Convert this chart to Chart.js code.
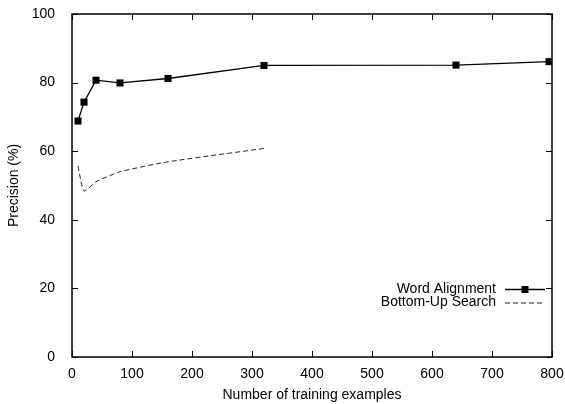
<!DOCTYPE html>
<html>
<head>
<meta charset="utf-8">
<script src="https://cdn.jsdelivr.net/npm/chart.js@4/dist/chart.umd.min.js"></script>
<style>
  html, body { margin: 0; padding: 0; background: #fff; }
  #wrap { width: 565px; height: 404px; }
</style>
</head>
<body>
<div id="wrap"><canvas id="chart" width="565" height="404"></canvas></div>
<script>
// data
const trainingSizes = [10, 20, 40, 80, 160, 320, 640, 795];
const wordAlignment = [68.8, 74.3, 80.7, 79.9, 81.2, 85.0, 85.1, 86.1];
const bottomUpSizes = [10, 20, 40, 80, 160, 320];
const bottomUpSearch = [55.7, 48.4, 51.1, 54.0, 56.9, 60.8];
const xTicks = [0, 100, 200, 300, 400, 500, 600, 700, 800];
const yTicks = [0, 20, 40, 60, 80, 100];

const FONT = { family: '"Liberation Sans", Arial, Helvetica, sans-serif', size: 14 };

// gnuplot style frame, inward ticks and key
const framePlugin = {
    id: 'frame',
    afterDraw(chart) {
        const ctx = chart.ctx;
        const a = chart.chartArea;
        const xs = chart.scales.x, ys = chart.scales.y;
        ctx.save();
        ctx.strokeStyle = '#000';
        ctx.lineWidth = 1.5;
        ctx.strokeRect(a.left, a.top, a.right - a.left, a.bottom - a.top);
        ctx.lineWidth = 1;
        ctx.beginPath();
        xTicks.forEach(v => {
            const px = Math.round(xs.getPixelForValue(v)) + 0.5;
            ctx.moveTo(px, a.bottom); ctx.lineTo(px, a.bottom - 6);
            ctx.moveTo(px, a.top); ctx.lineTo(px, a.top + 6);
        });
        yTicks.forEach(v => {
            const py = Math.round(ys.getPixelForValue(v)) + 0.5;
            ctx.moveTo(a.left, py); ctx.lineTo(a.left + 6, py);
            ctx.moveTo(a.right, py); ctx.lineTo(a.right - 6, py);
        });
        ctx.stroke();

        // key
        ctx.font = FONT.size + 'px ' + FONT.family;
        ctx.fillStyle = '#000';
        ctx.textAlign = 'right';
        ctx.textBaseline = 'middle';
        const textX = a.right - 56, x1 = a.right - 47, x2 = a.right - 7;
        const row1 = a.bottom - 68, row2 = row1 + 13.5;
        chart.data.datasets.forEach((ds, i) => {
            const y = i === 0 ? row1 : row2;
            ctx.fillText(ds.label, textX, y);
            ctx.beginPath();
            ctx.setLineDash(ds.borderDash || []);
            ctx.strokeStyle = ds.borderColor;
            ctx.lineWidth = ds.borderWidth;
            ctx.moveTo(x1, y + 0.5); ctx.lineTo(x2, y + 0.5);
            ctx.stroke();
            ctx.setLineDash([]);
            if (ds.pointRadius) {
                ctx.fillRect((x1 + x2) / 2 - 3.5, y - 3, 7, 7);
            }
        });
        ctx.restore();
    }
};

new Chart(document.getElementById('chart'), {
    type: 'line',
    data: {
        datasets: [{
            label: 'Word Alignment',
            data: trainingSizes.map((x, i) => ({ x: x, y: wordAlignment[i] })),
            borderColor: '#000',
            backgroundColor: '#000',
            borderWidth: 1.3,
            pointStyle: 'rect',
            pointRadius: 5,
            pointBorderWidth: 0,
            tension: 0
        }, {
            label: 'Bottom-Up Search',
            data: bottomUpSizes.map((x, i) => ({ x: x, y: bottomUpSearch[i] })),
            borderColor: '#222',
            borderWidth: 1,
            borderDash: [5, 3],
            pointRadius: 0,
            tension: 0.2
        }]
    },
    options: {
        responsive: false,
        animation: false,
        layout: { padding: { left: 0, right: 13, top: 14, bottom: 0 } },
        plugins: {
            legend: { display: false },
            tooltip: { enabled: false }
        },
        scales: {
            x: {
                type: 'linear',
                min: 0, max: 800,
                afterBuildTicks: s => { s.ticks = xTicks.map(v => ({ value: v })); },
                afterFit: s => { s.height = 47; s.paddingLeft = 0; s.paddingRight = 0; },
                grid: { display: false },
                border: { display: false },
                ticks: { color: '#000', font: FONT, padding: 1, maxRotation: 0 },
                title: { display: true, text: 'Number of training examples', color: '#000', font: FONT, padding: { top: 0, bottom: 0 } }
            },
            y: {
                type: 'linear',
                min: 0, max: 100,
                afterBuildTicks: s => { s.ticks = yTicks.map(v => ({ value: v })); },
                afterFit: s => { s.width = 72; s.paddingTop = 0; s.paddingBottom = 0; },
                grid: { display: false },
                border: { display: false },
                ticks: { color: '#000', font: FONT, padding: 9 },
                title: { display: true, text: 'Precision (%)', color: '#000', font: FONT, padding: { top: 6, bottom: 0 } }
            }
        }
    },
    plugins: [framePlugin]
});
</script>
</body>
</html>
